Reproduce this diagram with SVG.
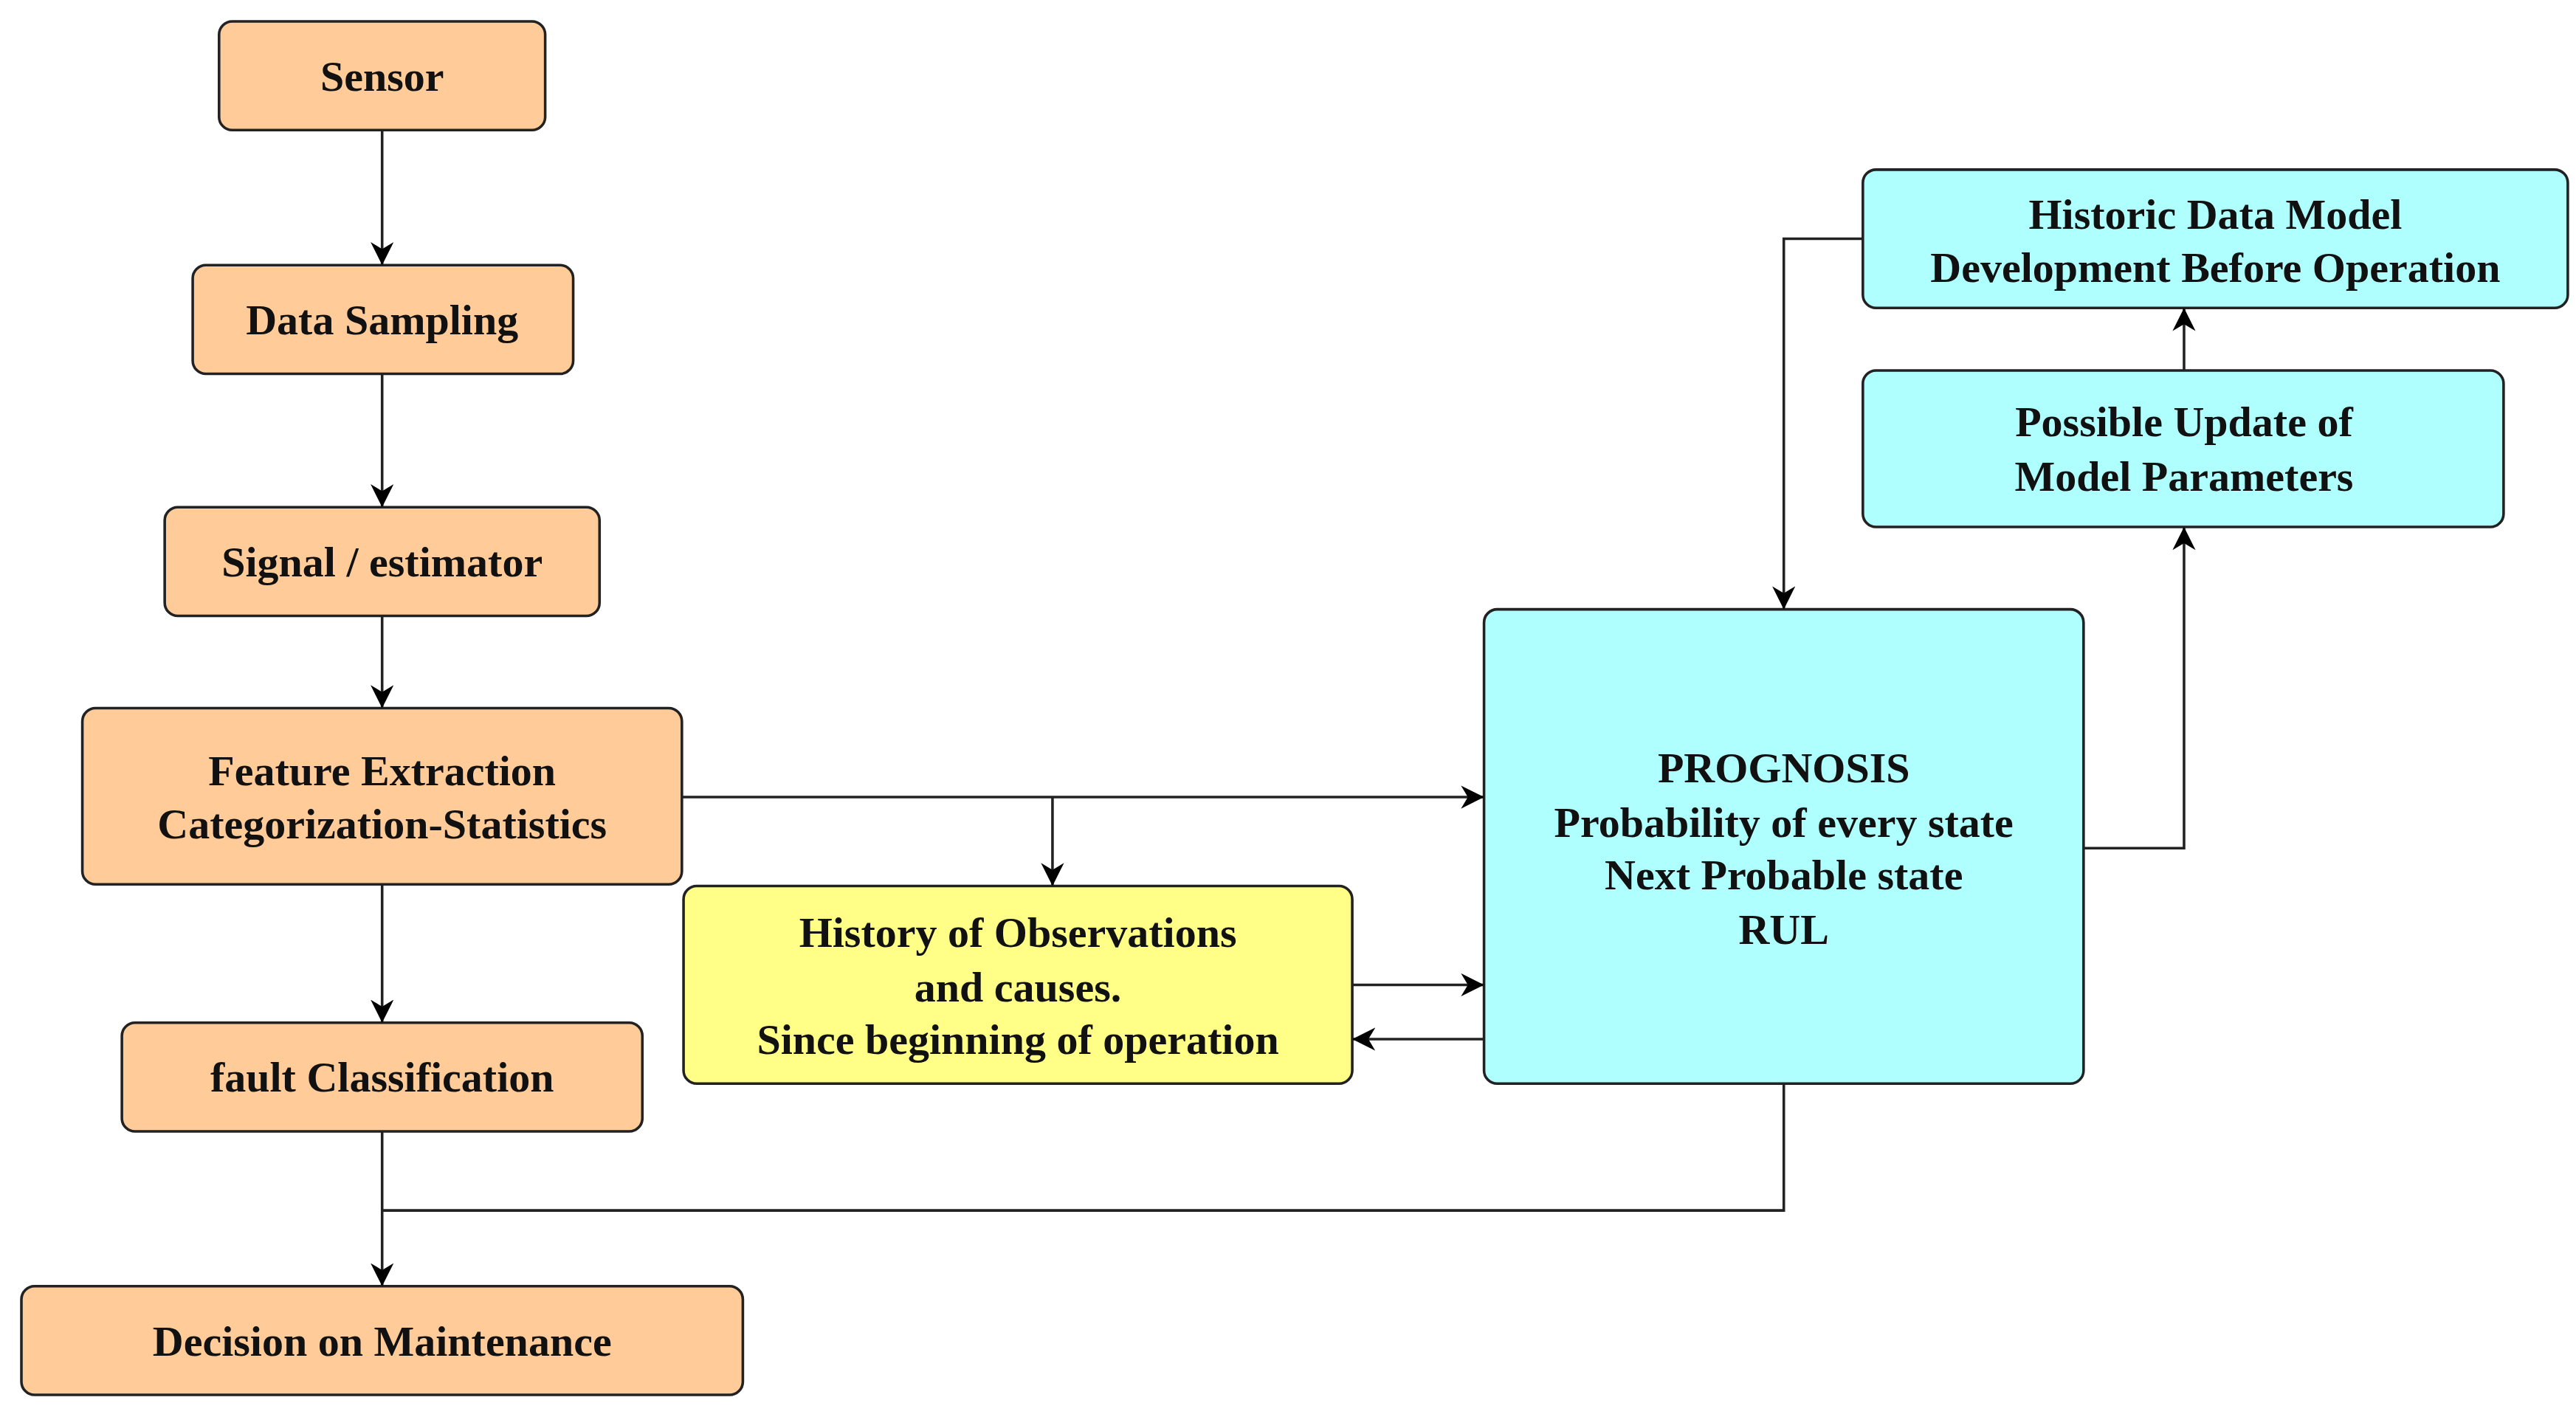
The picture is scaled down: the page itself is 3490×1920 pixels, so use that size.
<svg xmlns="http://www.w3.org/2000/svg" width="3490" height="1920" viewBox="0 0 3490 1920">
<style>
.b{stroke:#222;stroke-width:1.6}
.o{fill:#FFCC99}.c{fill:#B0FFFF}.y{fill:#FFFF88}
text{font-family:"Liberation Serif",serif;font-weight:bold;font-size:26px;fill:#111;text-anchor:middle}
.l{fill:none;stroke:#222;stroke-width:1.6}
</style>
<defs><marker id="a" viewBox="0 0 10 10" refX="10" refY="5" markerWidth="14" markerHeight="14" markerUnits="userSpaceOnUse" orient="auto"><path d="M0,0 L10,5 L0,10 L3,5 z" fill="#000"/></marker></defs>
<rect width="3490" height="1920" fill="#fff"/>
<g transform="scale(2.2315)">
<g id="sensor"><rect class="b o" x="133" y="13" width="198" height="66" rx="8"/><text x="232" y="55">Sensor</text></g>
<g id="sampling"><rect class="b o" x="117" y="161" width="231" height="66" rx="8"/><text x="232" y="203">Data Sampling</text></g>
<g id="signal"><rect class="b o" x="100" y="308" width="264" height="66" rx="8"/><text x="232" y="350">Signal / estimator</text></g>
<g id="feature"><rect class="b o" x="50" y="430" width="364" height="107" rx="8"/><text x="232" y="477">Feature Extraction</text><text x="232" y="509">Categorization-Statistics</text></g>
<g id="fault"><rect class="b o" x="74" y="621" width="316" height="66" rx="8"/><text x="232" y="663">fault Classification</text></g>
<g id="decision"><rect class="b o" x="13" y="781" width="438" height="66" rx="8"/><text x="232" y="823">Decision on Maintenance</text></g>
<g id="history"><rect class="b y" x="415" y="538" width="406" height="120" rx="8"/><text x="618" y="575">History of Observations</text><text x="618" y="608">and causes.</text><text x="618" y="640">Since beginning of operation</text></g>
<g id="prognosis"><rect class="b c" x="901" y="370" width="364" height="288" rx="8"/><text x="1083" y="475">PROGNOSIS</text><text x="1083" y="508">Probability of every state</text><text x="1083" y="540">Next Probable state</text><text x="1083" y="573">RUL</text></g>
<g id="historic"><rect class="b c" x="1131" y="103" width="428" height="84" rx="8"/><text x="1345" y="139">Historic Data Model</text><text x="1345" y="171">Development Before Operation</text></g>
<g id="update"><rect class="b c" x="1131" y="225" width="389" height="95" rx="8"/><text x="1326" y="265">Possible Update of</text><text x="1326" y="298">Model Parameters</text></g>
<g id="connectors">
<path class="l" marker-end="url(#a)" d="M232,79 V161"/>
<path class="l" marker-end="url(#a)" d="M232,227 V308"/>
<path class="l" marker-end="url(#a)" d="M232,374 V430"/>
<path class="l" marker-end="url(#a)" d="M232,537 V621"/>
<path class="l" marker-end="url(#a)" d="M232,687 V781"/>
<path class="l" marker-end="url(#a)" d="M414,484 H901"/>
<path class="l" marker-end="url(#a)" d="M639,484 V538"/>
<path class="l" marker-end="url(#a)" d="M821,598 H901"/>
<path class="l" marker-end="url(#a)" d="M901,631 H821"/>
<path class="l" d="M1083,658 V735 H232"/>
<path class="l" marker-end="url(#a)" d="M1265,515 H1326 V320"/>
<path class="l" marker-end="url(#a)" d="M1326,225 V187"/>
<path class="l" marker-end="url(#a)" d="M1131,145 H1083 V370"/>
</g>
</g>
</svg>
